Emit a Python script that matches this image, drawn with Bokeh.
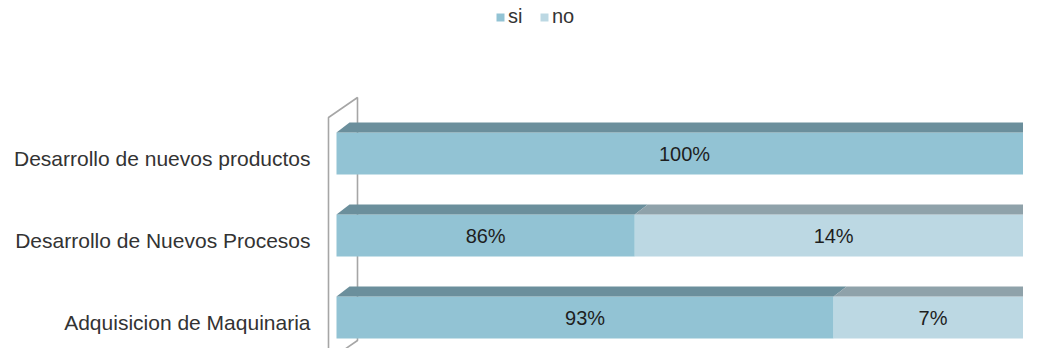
from bokeh.plotting import figure
from bokeh.models import Range1d, Legend, LegendItem, ColumnDataSource
from bokeh.embed import file_html
from bokeh.resources import INLINE
from bokeh.core.properties import value

# ---------------- data ----------------
categories = ["Desarrollo de nuevos productos",
              "Desarrollo de Nuevos Procesos",
              "Adquisicion de Maquinaria"]
si = [1.00, 0.86, 0.93]
no = [0.00, 0.14, 0.07]
series = ["si", "no"]
axis_min, axis_max = 0.755, 1.0

# ---------------- styles ----------------
FRONT = {"si": "#92C3D4", "no": "#BCD8E3"}
TOP = {"si": "#6B8F9C", "no": "#8FA2AA"}
SIDE = {"si": "#6A8E9B", "no": "#8C9FA7"}
WALL = "#A6A6A6"
FONT = "Liberation Sans"
TXT = "#333333"

# ---------------- layout (pixels) ----------------
W, H = 1023, 348
LEFT_PX, RIGHT_PX = 336, 1032          # where axis_min / axis_max sit
ROW_PX, BOTTOM_CENTER_PX = 82, 317
BAR_PX, DX_PX, DY_PX = 42, 13, 10

pxu = (RIGHT_PX - LEFT_PX) / (axis_max - axis_min)
x0 = axis_min - LEFT_PX / pxu
x1 = x0 + W / pxu
y0 = -(H - BOTTOM_CENTER_PX) / ROW_PX
y1 = y0 + H / ROW_PX
bh = BAR_PX / ROW_PX
ddx = DX_PX / pxu
ddy = DY_PX / ROW_PX

n = len(categories)
ys = [n - 1 - i for i in range(n)]

p = figure(width=W, height=H, x_range=Range1d(x0, x1), y_range=Range1d(y0, y1),
           output_backend="svg", toolbar_location=None, min_border=0,
           x_axis_location=None, y_axis_location=None)
p.grid.visible = False
p.outline_line_color = None
p.background_fill_color = "white"
p.border_fill_color = "white"

# ---------------- side wall ----------------
wx_front = axis_min - 8 / pxu
wx_back = wx_front + 29 / pxu
w_bot = min(ys) - bh / 2 - 22 / ROW_PX
w_top = max(ys) + bh / 2 + 15 / ROW_PX
wdy = 20 / ROW_PX
p.patch([wx_front, wx_front, wx_back, wx_back],
        [w_bot, w_top, w_top + wdy, w_bot + wdy],
        fill_color=None, line_color=WALL, line_width=1.6)

# ---------------- bars ----------------
lefts = {"si": [axis_min] * n, "no": si}
rights = {"si": si, "no": [a + b for a, b in zip(si, no)]}
vals = {"si": si, "no": no}
renderers = {}
for s in series:
    src = ColumnDataSource(dict(y=ys, left=lefts[s], right=rights[s]))
    renderers[s] = p.hbar(y="y", left="left", right="right", height=bh, source=src,
                          fill_color=FRONT[s], line_color=None)
    txs, tys = [], []
    for l, r, y in zip(lefts[s], rights[s], ys):
        if r - l <= 0:
            continue
        t = y + bh / 2
        txs.append([l, r, r + ddx, l + ddx])
        tys.append([t, t, t + ddy, t + ddy])
    p.patches(txs, tys, fill_color=TOP[s], line_color=None)

# right side faces of the last segment
for i, y in enumerate(ys):
    last = "no" if no[i] > 0 else "si"
    r = rights[last][i]
    b, t = y - bh / 2, y + bh / 2
    p.patch([r, r + ddx, r + ddx, r], [b, b + ddy, t + ddy, t],
            fill_color=SIDE[last], line_color=None)

# ---------------- value labels ----------------
lx, ly, lt = [], [], []
for s in series:
    for l, r, y, v in zip(lefts[s], rights[s], ys, vals[s]):
        if v <= 0:
            continue
        lx.append((l + r) / 2)
        ly.append(y)
        lt.append(f"{round(v * 100)}%")
p.text(x=lx, y=ly, text=lt, text_align="center", text_baseline="middle", y_offset=0,
       text_font=value(FONT), text_font_size="20px", text_color="#1E1E1E")

# ---------------- category labels ----------------
p.text(x=[axis_min] * n, y=ys, text=categories, x_offset=-26, y_offset=5,
       text_align="right", text_baseline="middle",
       text_font=value(FONT), text_font_size="21px", text_color=TXT)

# ---------------- legend ----------------
legend = Legend(items=[LegendItem(label=s, renderers=[renderers[s]]) for s in series],
                orientation="horizontal", location=(495, 320),
                glyph_width=10, glyph_height=10, label_standoff=3, spacing=11,
                padding=0, margin=0, border_line_color=None, background_fill_alpha=0,
                label_text_font=FONT, label_text_font_size="20px", label_text_color=TXT)
p.add_layout(legend)

open("out.html", "w").write(file_html(p, INLINE))
